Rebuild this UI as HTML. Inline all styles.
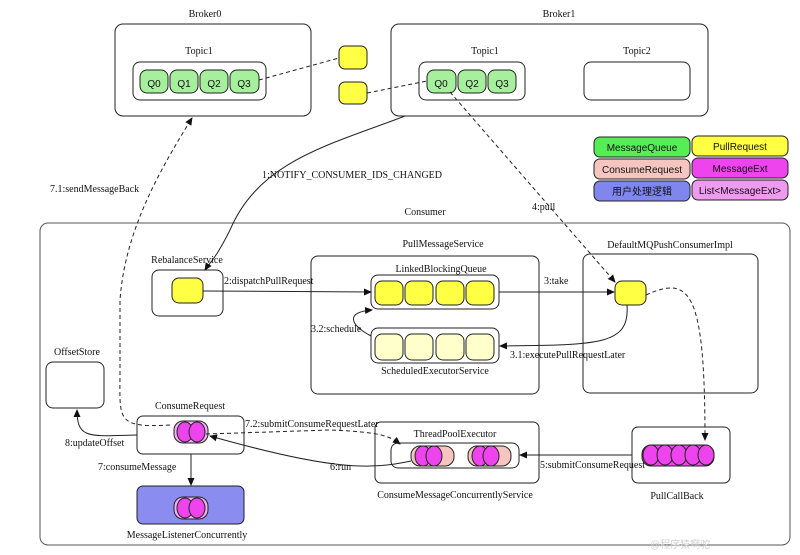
<!DOCTYPE html>
<html><head><meta charset="utf-8"><style>
html,body{margin:0;padding:0;background:#fff;}
svg{display:block;}
text{font-family:"Liberation Serif","Noto Serif CJK SC",serif;font-size:10px;fill:#111;}
.s{font-family:"Liberation Sans","Noto Sans CJK SC",sans-serif;}
</style></head><body>
<svg width="800" height="555" viewBox="0 0 800 555" xmlns="http://www.w3.org/2000/svg">
<defs>
<marker id="a" markerWidth="8" markerHeight="8" refX="7" refY="4" orient="auto" markerUnits="userSpaceOnUse"><path d="M0,0.5 L8,4 L0,7.5 z" fill="#111"/></marker>
</defs>
<g fill="none" stroke="#222" stroke-width="1">
<rect x="115" y="24" width="196" height="92" rx="8"/>
<rect x="391" y="24" width="317" height="92" rx="8"/>
<rect x="133" y="62" width="133" height="38" rx="7"/>
<rect x="419" y="62" width="106" height="38" rx="7"/>
<rect x="584" y="62" width="106" height="38" rx="7"/>
<rect x="40" y="223" width="750" height="322" rx="8" stroke="#555"/>
<rect x="311" y="256" width="228" height="138" rx="7"/>
<rect x="583" y="254" width="175" height="139" rx="7"/>
<rect x="152" y="270" width="71" height="46" rx="7"/>
<rect x="371" y="275" width="128" height="34" rx="7"/>
<rect x="371" y="328" width="128" height="35" rx="7"/>
<rect x="46" y="362" width="58" height="46" rx="7"/>
<rect x="137" y="416" width="107" height="38" rx="6"/>
<rect x="375" y="422" width="164" height="61" rx="6"/>
<rect x="391" y="443" width="128" height="25" rx="7"/>
<rect x="632" y="427" width="98" height="56" rx="6"/>
</g>
<g stroke="#222" stroke-width="1">
<rect x="140" y="70" width="28" height="23" rx="7" fill="#a6ef9c"/>
<rect x="170" y="70" width="28" height="23" rx="7" fill="#a6ef9c"/>
<rect x="200" y="70" width="28" height="23" rx="7" fill="#a6ef9c"/>
<rect x="230" y="70" width="29" height="23" rx="7" fill="#a6ef9c"/>
<rect x="427" y="70" width="29" height="23" rx="7" fill="#a6ef9c"/>
<rect x="458" y="70" width="28" height="23" rx="7" fill="#a6ef9c"/>
<rect x="488" y="70" width="28" height="23" rx="7" fill="#a6ef9c"/>
<rect x="339" y="46" width="28" height="23" rx="6" fill="#ffff44"/>
<rect x="339" y="82" width="28" height="22" rx="6" fill="#ffff44"/>
<rect x="172" y="278" width="31" height="25" rx="7" fill="#ffff44"/>
<rect x="375" y="281" width="28" height="24" rx="7" fill="#ffff44"/>
<rect x="405" y="281" width="28" height="24" rx="7" fill="#ffff44"/>
<rect x="436" y="281" width="28" height="24" rx="7" fill="#ffff44"/>
<rect x="466" y="281" width="28" height="24" rx="7" fill="#ffff44"/>
<rect x="375" y="334" width="28" height="26" rx="7" fill="#ffffcc"/>
<rect x="405" y="334" width="28" height="26" rx="7" fill="#ffffcc"/>
<rect x="436" y="334" width="28" height="26" rx="7" fill="#ffffcc"/>
<rect x="466" y="334" width="28" height="26" rx="7" fill="#ffffcc"/>
<rect x="615" y="281" width="31" height="24" rx="7" fill="#ffff44"/>
<rect x="594" y="137" width="96" height="20" rx="6" fill="#55ee55"/>
<rect x="692" y="136" width="96" height="20" rx="6" fill="#ffff44"/>
<rect x="594" y="159" width="96" height="20" rx="6" fill="#f5c6c0"/>
<rect x="692" y="158" width="96" height="20" rx="6" fill="#ee44ee"/>
<rect x="594" y="181" width="96" height="20" rx="6" fill="#7f86ee"/>
<rect x="692" y="180" width="96" height="20" rx="6" fill="#ee9aee"/>
<rect x="137" y="486" width="107" height="38" rx="6" fill="#8a8cf0"/>
</g>
<g stroke="#222" stroke-width="1">
<rect x="174" y="421" width="34" height="22" rx="9" fill="#f3b0ee"/>
<ellipse cx="185" cy="432" rx="8" ry="10" fill="#ee44ee"/><ellipse cx="197" cy="432" rx="8" ry="10" fill="#ee44ee"/>
<rect x="174" y="497" width="34" height="22" rx="9" fill="#f3b0ee"/>
<ellipse cx="185" cy="508" rx="8" ry="10" fill="#ee44ee"/><ellipse cx="197" cy="508" rx="8" ry="10" fill="#ee44ee"/>
<rect x="411" y="446" width="43" height="20" rx="9" fill="#f5c6c0"/>
<ellipse cx="423" cy="456" rx="8" ry="10" fill="#ee44ee"/><ellipse cx="434" cy="456" rx="8" ry="10" fill="#ee44ee"/>
<rect x="468" y="446" width="43" height="20" rx="9" fill="#f5c6c0"/>
<ellipse cx="480" cy="456" rx="8" ry="10" fill="#ee44ee"/><ellipse cx="491" cy="456" rx="8" ry="10" fill="#ee44ee"/>
<rect x="642" y="445" width="72" height="21" rx="9" fill="#ee44ee"/>
<ellipse cx="651" cy="455" rx="8" ry="10" fill="#ee44ee"/><ellipse cx="665" cy="455" rx="8" ry="10" fill="#ee44ee"/><ellipse cx="679" cy="455" rx="8" ry="10" fill="#ee44ee"/><ellipse cx="693" cy="455" rx="8" ry="10" fill="#ee44ee"/><ellipse cx="706" cy="455" rx="8" ry="10" fill="#ee44ee"/>
</g>
<g fill="none" stroke="#222" stroke-width="1">
<path d="M259,80 L339,58" stroke-dasharray="4,3"/>
<path d="M367,93 L427,81" stroke-dasharray="4,3"/>
<path d="M405,116 C330,145 260,160 230,230 C215,260 210,262 205,270" marker-end="url(#a)"/>
<path d="M450,92 L615,282" stroke-dasharray="4,3" marker-end="url(#a)"/>
<path d="M203,291 L371,292" marker-end="url(#a)"/>
<path d="M499,292 L614,292" marker-end="url(#a)"/>
<path d="M627,305 C630,345 600,345 500,346" marker-end="url(#a)"/>
<path d="M371,336 C350,325 345,312 372,310" marker-end="url(#a)"/>
<path d="M646,295 C690,275 705,290 705,440" stroke-dasharray="4,3" marker-end="url(#a)"/>
<path d="M632,455 L520,455" marker-end="url(#a)"/>
<path d="M411,461 C370,470 330,470 210,436" marker-end="url(#a)"/>
<path d="M206,434 L330,430 C380,432 390,436 400,444" stroke-dasharray="4,3" marker-end="url(#a)"/>
<path d="M137,435 C90,436 77,440 77,410" marker-end="url(#a)"/>
<path d="M191,454 L191,485" marker-end="url(#a)"/>
<path d="M170,425 C115,428 120,420 120,370 L120,300 C125,230 160,170 192,118" stroke-dasharray="4,3" marker-end="url(#a)"/>
</g>
<g text-anchor="middle">
<text x="205" y="17" font-size="11">Broker0</text>
<text x="559" y="17" font-size="11">Broker1</text>
<text x="199" y="54" font-size="11">Topic1</text>
<text x="485" y="54" font-size="11">Topic1</text>
<text x="637" y="54" font-size="11">Topic2</text>
<text x="425" y="215" font-size="11">Consumer</text>
<text x="443" y="247" font-size="11">PullMessageService</text>
<text x="670" y="248">DefaultMQPushConsumerImpl</text>
<text x="187" y="263" font-size="11">RebalanceService</text>
<text x="441" y="272" font-size="11">LinkedBlockingQueue</text>
<text x="435" y="374" font-size="11">ScheduledExecutorService</text>
<text x="77" y="355" font-size="11">OffsetStore</text>
<text x="190" y="409" font-size="11">ConsumeRequest</text>
<text x="455" y="437" font-size="11">ThreadPoolExecutor</text>
<text x="455" y="498" font-size="10">ConsumeMessageConcurrentlyService</text>
<text x="677" y="499" font-size="11">PullCallBack</text>
<text x="187" y="538" font-size="9">MessageListenerConcurrently</text>
<text class="s" x="154" y="87" font-size="14">Q0</text><text class="s" x="184" y="87" font-size="14">Q1</text><text class="s" x="214" y="87" font-size="14">Q2</text><text class="s" x="244" y="87" font-size="14">Q3</text>
<text class="s" x="441" y="87" font-size="14">Q0</text><text class="s" x="472" y="87" font-size="14">Q2</text><text class="s" x="502" y="87" font-size="14">Q3</text>
<text class="s" x="642" y="151" font-size="11">MessageQueue</text>
<text class="s" x="740" y="150" font-size="11">PullRequest</text>
<text class="s" x="642" y="173" font-size="11">ConsumeRequest</text>
<text class="s" x="740" y="172" font-size="11">MessageExt</text>
<text class="s" x="642" y="195" font-size="11">用户处理逻辑</text>
<text class="s" x="740" y="194" font-size="11">List&lt;MessageExt&gt;</text>
</g>
<text x="262" y="178" font-size="8">1:NOTIFY_CONSUMER_IDS_CHANGED</text>
<text x="50" y="192" font-size="11">7.1:sendMessageBack</text>
<text x="532" y="210" font-size="11">4:pull</text>
<text x="224" y="284" font-size="8">2:dispatchPullRequest</text>
<text x="544" y="284" font-size="11">3:take</text>
<text x="311" y="332" font-size="8">3.2:schedule</text>
<text x="510" y="358" font-size="8">3.1:executePullRequestLater</text>
<text x="245" y="427" font-size="8">7.2:submitConsumeRequestLater</text>
<text x="65" y="446" font-size="8">8:updateOffset</text>
<text x="98" y="470" font-size="11">7:consumeMessage</text>
<text x="330" y="470" font-size="11">6:run</text>
<text x="540" y="468" font-size="7">5:submitConsumeRequest</text>
<text class="s" x="650" y="548" font-size="19" style="fill:#d0d0d0">@程序猿啊驼</text>
</svg>
</body></html>
